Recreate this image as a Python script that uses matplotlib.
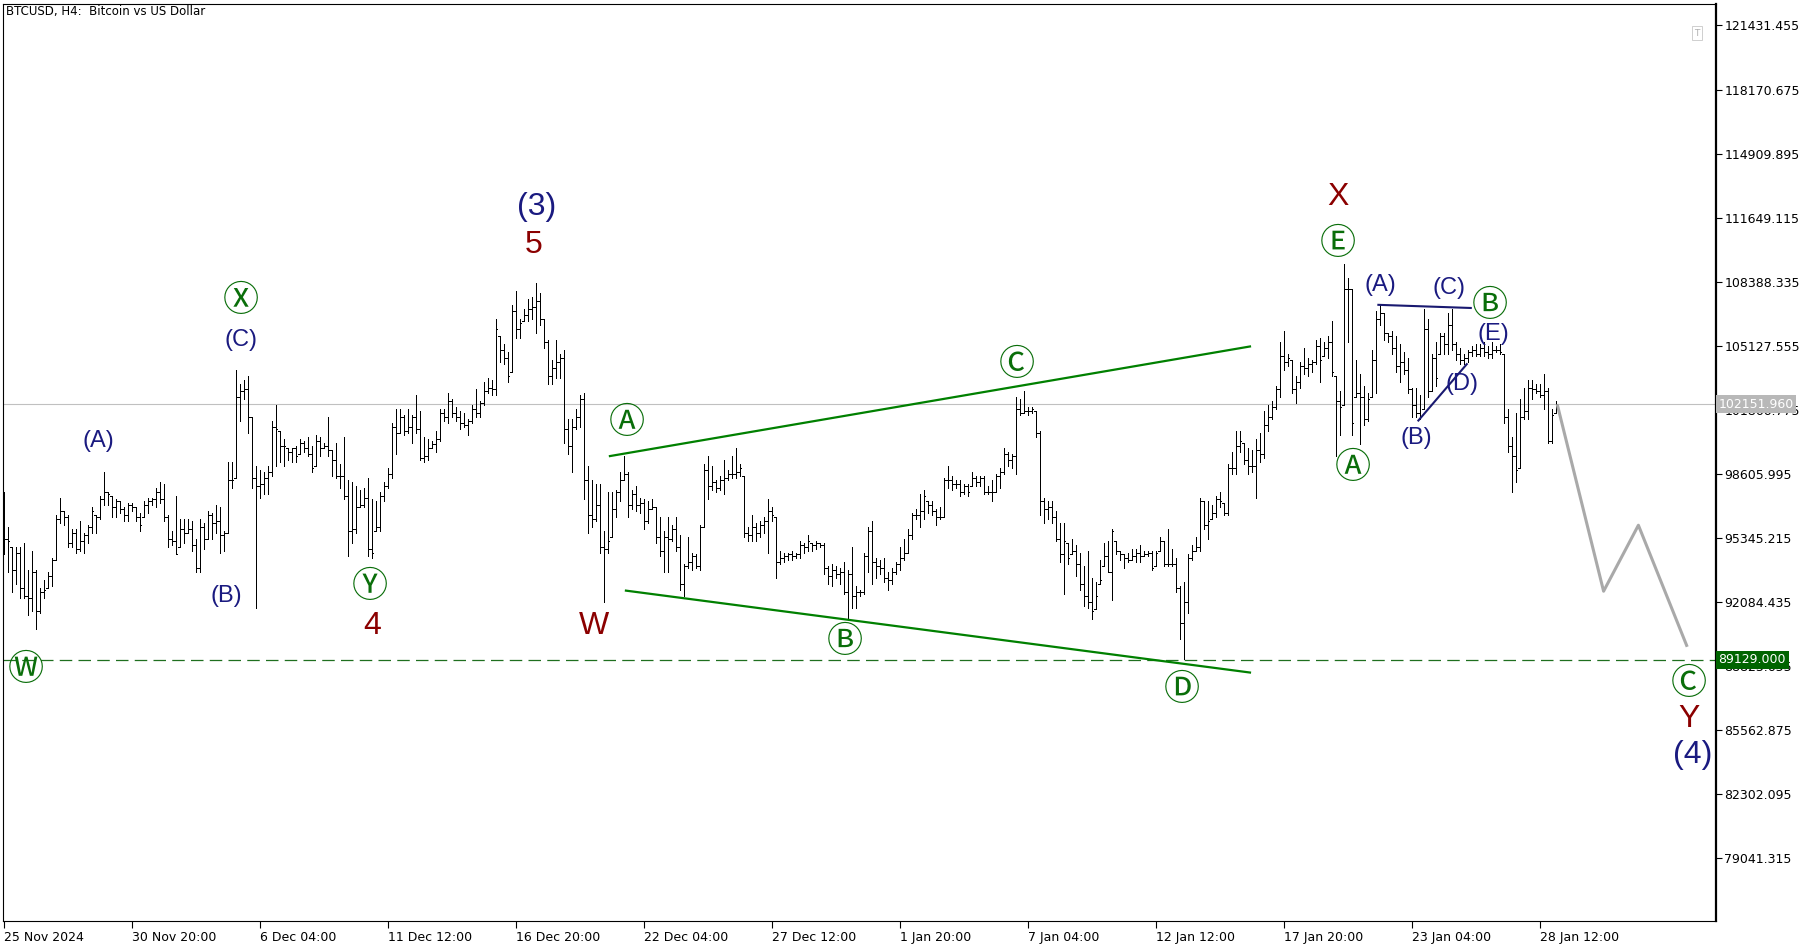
import matplotlib
matplotlib.use("Agg")
import matplotlib.pyplot as plt
import matplotlib.transforms as mtransforms
import numpy as np

# BTCUSD H4 bars (thousands of USD), one bar every 4 hours from 25 Nov 2024
high = [
    97.7, 95.9, 94.9, 94.9, 94.9, 95.1, 93.7, 94.7, 93.7, 92.8, 93.2, 93.6, 94.3, 96.5, 97.4, 96.7, 96.5, 95.8, 95.8, 96.2,
    95.6, 96.0, 96.9, 96.5, 97.5, 98.7, 97.7, 97.5, 97.3, 97.2, 96.9, 97.1, 97.1, 96.9, 96.6, 97.2, 97.4, 97.4, 97.9, 98.2,
    98.1, 96.5, 95.7, 97.5, 96.3, 96.3, 96.3, 96.2, 95.3, 96.3, 96.1, 96.7, 96.6, 97.0, 96.9, 95.7, 99.2, 99.2, 103.9, 103.2,
    103.4, 103.6, 101.5, 99.0, 98.8, 98.7, 99.0, 101.3, 102.1, 100.8, 100.4, 99.9, 99.9, 100.0, 100.4, 100.3, 100.5, 100.0, 100.6, 100.5,
    100.2, 101.5, 99.8, 100.2, 99.1, 100.5, 98.3, 98.2, 98.0, 97.8, 97.9, 98.4, 97.3, 97.2, 97.7, 98.2, 98.9, 101.2, 101.9, 101.9,
    101.6, 101.9, 101.6, 102.6, 101.8, 100.5, 100.4, 100.3, 100.8, 101.9, 101.9, 102.7,
    # 16 Dec - 1 Jan
    102.4, 102.0, 101.8, 101.7, 101.4, 102.1, 102.9, 102.3, 103.3, 103.5, 103.4, 106.5, 105.6, 105.2, 104.8, 107.2, 107.9, 106.5, 107.0, 107.5,
    107.6, 108.3, 107.8, 106.5, 105.4, 104.4, 105.4, 104.7, 104.9, 101.4, 101.4, 101.9, 102.6, 102.7, 99.0, 98.3, 98.1, 98.1, 95.7, 97.7,
    97.7, 97.8, 98.7, 99.5, 98.7, 97.8, 98.0, 97.4, 97.3, 97.2, 97.3, 96.9, 96.4, 95.7, 96.4, 96.0, 96.4, 95.5, 94.0, 95.4,
    94.6, 94.5, 96.0, 99.1, 99.5, 99.0, 98.3, 98.5, 99.3, 98.8, 99.5, 99.9, 99.1, 98.5, 95.9, 96.5, 96.1, 96.2, 96.4, 97.3,
    96.9, 96.4, 94.7, 94.6, 94.6, 94.7, 94.6, 95.2, 95.1, 95.5, 95.1, 95.2, 95.1, 95.1, 93.9, 94.0, 93.9, 93.8, 94.1, 93.7,
    94.9, 92.9, 92.7, 94.6, 95.9, 96.2, 94.3, 94.2, 94.3, 93.6, 93.8, 94.1, 94.9,
    # 1 Jan - 12 Jan
    95.3, 95.8, 96.6, 96.8, 97.6, 97.8, 97.2, 97.2, 96.8, 96.9, 98.4, 99.0, 98.5, 98.3, 98.3, 98.1, 98.1, 98.7, 98.5, 98.5,
    98.5, 98.0, 98.3, 98.6, 98.9, 99.9, 99.7, 99.6, 102.5, 102.4, 102.8, 102.0, 102.0, 101.8, 100.8, 97.4, 97.2, 97.2, 96.7, 96.1,
    96.1, 95.1, 95.3, 95.0, 94.6,
    93.9, 94.7, 93.3, 93.1, 94.2, 95.1, 95.2, 95.8, 95.2, 94.7, 94.5, 94.6, 94.8, 94.8, 95.0, 94.7, 94.7, 94.7, 94.7, 95.4,
    95.2, 95.8, 94.8, 94.3, 92.9, 93.1, 94.5, 95.0, 95.4, 97.4, 97.2, 97.2, 97.0, 97.5, 97.7, 97.1, 99.1, 99.7, 100.8, 100.8,
    100.2, 99.9,
    # 17 Jan - 29 Jan
    99.8, 100.4, 100.7, 101.8, 102.1, 102.3, 103.1, 105.3, 105.9, 104.7, 104.4, 103.6, 104.3, 105.0, 104.5, 104.4, 105.4, 105.5, 105.3, 105.6,
    106.4, 103.6, 102.8, 109.3, 108.6, 108.0, 104.4, 103.7, 103.1, 102.7, 104.9, 106.9, 107.2, 106.8, 105.8, 105.9, 105.6, 105.2, 104.8, 104.5,
    103.0, 103.0, 102.6,
    107.0, 106.5, 104.7, 105.3, 105.8, 105.8, 106.8, 107.0, 105.3, 105.0, 104.7, 104.9, 105.1, 105.2, 105.2, 105.3, 105.1, 105.3, 105.1, 105.2,
    104.7, 101.9, 100.5, 101.7, 102.4, 103.0, 103.4, 103.4, 103.2, 103.2, 103.7, 103.0, 101.9, 102.3,
]
low = [
    94.5, 93.6, 92.6, 93.0, 92.3, 92.3, 91.4, 91.6, 90.7, 91.5, 92.3, 92.8, 92.9, 94.2, 96.1, 96.0, 94.9, 94.9, 94.6, 94.7,
    94.6, 95.1, 95.6, 95.6, 96.3, 97.0, 97.0, 96.4, 96.4, 96.6, 96.2, 96.2, 96.7, 96.2, 95.7, 96.4, 96.6, 97.0, 96.9, 97.1,
    96.2, 94.9, 95.0, 94.5, 94.9, 95.1, 95.6, 94.7, 93.6, 93.6, 94.8, 95.3, 95.3, 95.6, 94.6, 94.7, 95.6, 97.9, 98.4, 101.3,
    102.4, 100.7, 97.9, 91.8, 97.4, 97.6, 97.6, 98.5, 99.0, 99.2, 99.0, 99.3, 99.2, 99.2, 99.6, 99.7, 99.5, 98.7, 99.0, 99.5,
    99.9, 99.5, 98.5, 98.4, 97.9, 97.3, 94.4, 95.1, 95.6, 96.9, 96.9, 94.4, 94.3, 95.7, 95.7, 97.2, 97.9, 98.4, 99.6, 100.7,
    100.6, 100.7, 100.2, 100.7, 99.3, 99.2, 99.3, 99.9, 99.7, 100.3, 101.3, 101.2,
    101.5, 101.3, 100.9, 101.0, 100.6, 101.2, 101.5, 101.5, 102.1, 102.7, 102.6, 102.6, 104.3, 104.2, 103.3, 103.8, 105.5, 105.5, 106.4, 106.4,
    106.5, 105.8, 106.2, 105.0, 103.2, 103.2, 103.5, 103.5, 100.2, 99.6, 98.7, 100.9, 101.0, 97.3, 95.6, 95.9, 96.2, 94.6, 92.1, 94.6,
    95.4, 96.4, 97.2, 98.3, 96.4, 96.8, 96.7, 96.6, 95.8, 96.1, 96.8, 95.1, 94.4, 93.6, 93.6, 95.2, 94.7, 92.7, 92.4, 93.8,
    93.7, 93.8, 93.7, 95.9, 97.3, 97.8, 97.7, 97.8, 97.6, 98.3, 98.4, 98.4, 98.5, 95.4, 95.2, 95.2, 95.2, 95.4, 95.6, 94.6,
    96.2, 93.3, 94.0, 94.1, 94.2, 94.2, 94.3, 94.3, 94.6, 94.7, 94.7, 94.8, 94.9, 93.5, 93.0, 92.9, 93.3, 93.0, 92.5, 91.2,
    91.8, 91.8, 92.4, 92.5, 93.6, 93.0, 93.3, 93.5, 93.1, 92.7, 93.0, 93.5, 93.7,
    94.2, 94.6, 95.3, 96.3, 95.9, 96.3, 96.6, 96.5, 96.0, 96.3, 96.4, 97.9, 97.8, 97.9, 97.5, 97.6, 97.5, 98.0, 98.0, 98.0,
    97.6, 97.6, 97.2, 97.7, 97.9, 98.6, 99.0, 98.9, 98.6, 101.6, 101.7, 101.6, 101.7, 100.5, 96.5, 96.1, 96.3, 96.1, 95.2, 94.1,
    92.5, 94.0, 94.5, 93.4, 92.7,
    91.9, 91.8, 91.2, 91.7, 93.0, 93.9, 93.6, 92.2, 94.5, 94.2, 93.8, 94.1, 94.2, 94.1, 94.1, 94.4, 94.4, 93.7, 93.9, 94.7,
    93.9, 93.9, 93.9, 92.6, 90.2, 89.2, 91.5, 94.2, 94.7, 94.7, 95.8, 95.3, 96.3, 96.4, 96.9, 96.5, 96.5, 98.6, 98.6, 99.7,
    99.1, 98.6,
    98.7, 97.4, 99.2, 99.4, 100.8, 101.4, 101.9, 102.5, 103.9, 104.1, 102.7, 102.2, 103.0, 103.7, 103.6, 103.8, 104.2, 103.3, 104.6, 104.5,
    103.6, 99.5, 100.6, 102.1, 105.3, 100.6, 102.5, 100.1, 101.1, 101.3, 102.5, 102.7, 106.2, 105.4, 105.3, 104.7, 103.8, 103.3, 103.7, 102.7,
    101.5, 101.5, 101.4,
    101.9, 102.5, 102.8, 103.1, 104.7, 104.7, 104.7, 104.9, 104.4, 104.2, 104.2, 104.3, 104.6, 104.6, 104.6, 104.6, 104.5, 104.5, 104.8, 104.7,
    101.2, 99.7, 97.7, 98.2, 98.9, 101.4, 101.4, 102.4, 102.7, 102.5, 101.9, 100.2, 100.2, 101.7,
]
close = [
    95.3, 95.2, 93.7, 94.6, 92.8, 92.4, 92.3, 93.6, 91.6, 92.6, 92.7, 93.4, 94.2, 96.3, 96.7, 96.4, 95.1, 95.6, 94.8, 95.2,
    95.5, 95.9, 96.7, 96.4, 97.3, 97.7, 97.6, 96.9, 97.2, 96.8, 96.5, 97.0, 96.9, 96.4, 96.0, 97.0, 97.2, 97.3, 97.7, 97.3,
    96.4, 95.3, 95.2, 94.5, 95.8, 95.6, 95.8, 95.0, 93.8, 95.9, 95.3, 96.5, 96.1, 96.2, 95.5, 95.6, 98.3, 98.3, 102.5, 102.8,
    102.9, 101.5, 98.4, 98.0, 98.1, 98.4, 98.7, 101.0, 100.9, 100.0, 100.0, 99.7, 99.9, 99.5, 100.2, 99.9, 99.6, 98.9, 100.3, 99.9,
    100.0, 99.8, 99.3, 98.5, 98.5, 97.5, 95.7, 95.8, 96.9, 97.0, 97.4, 94.8, 94.6, 95.9, 97.5, 98.0, 98.6, 101.0, 100.7, 101.5,
    100.8, 101.0, 101.5, 100.9, 99.4, 99.5, 99.9, 100.1, 100.4, 101.7, 101.5, 102.3,
    101.7, 101.5, 101.2, 101.1, 101.3, 101.9, 101.7, 102.2, 102.8, 103.0, 102.9, 106.0, 104.9, 104.5, 103.6, 106.9, 106.0, 106.3, 106.7, 107.0,
    107.1, 107.4, 106.5, 105.3, 103.6, 104.0, 104.3, 104.5, 100.9, 100.0, 101.0, 101.5, 102.4, 98.3, 96.5, 96.3, 97.0, 94.9, 94.8, 95.2,
    96.8, 97.7, 98.3, 98.6, 97.0, 97.6, 97.0, 97.1, 96.2, 96.8, 96.9, 95.4, 94.7, 95.4, 95.3, 95.8, 94.9, 93.0, 93.9, 94.1,
    94.4, 93.9, 95.9, 98.8, 98.0, 98.2, 97.9, 98.3, 98.4, 98.6, 98.6, 98.7, 98.9, 95.6, 95.5, 95.9, 95.6, 96.0, 96.2, 96.7,
    96.5, 94.1, 94.3, 94.4, 94.5, 94.4, 94.5, 95.0, 94.9, 95.2, 95.0, 95.1, 95.0, 93.8, 93.4, 93.7, 93.5, 93.6, 92.6, 93.5,
    92.4, 92.6, 92.6, 94.4, 95.7, 94.1, 93.9, 93.8, 93.3, 93.2, 93.6, 94.0, 94.3,
    94.6, 95.5, 96.5, 96.5, 96.7, 97.5, 97.0, 96.7, 96.4, 96.4, 98.3, 98.3, 98.1, 98.1, 97.7, 98.0, 97.7, 98.4, 98.2, 98.4,
    97.7, 97.7, 97.7, 98.5, 98.7, 99.6, 99.3, 99.5, 101.9, 101.7, 101.8, 101.8, 101.9, 100.7, 97.2, 96.8, 96.9, 96.4, 95.3, 94.5,
    95.2, 94.3, 94.7, 94.0, 93.0,
    92.4, 92.1, 91.6, 92.4, 93.2, 94.4, 93.6, 95.7, 94.7, 94.5, 94.3, 94.2, 94.4, 94.6, 94.4, 94.5, 94.6, 93.8, 94.6, 95.2,
    94.0, 94.0, 94.0, 92.8, 91.0, 92.1, 94.3, 94.7, 94.9, 97.2, 96.0, 96.2, 96.6, 97.3, 97.2, 96.6, 98.9, 98.9, 100.0, 100.3,
    99.3, 99.0,
    99.0, 99.8, 99.6, 101.1, 101.5, 102.0, 102.9, 104.6, 104.3, 104.5, 102.9, 103.3, 104.1, 104.0, 104.2, 104.3, 105.1, 104.4, 105.0, 105.3,
    103.8, 102.3, 102.0, 108.0, 108.0, 101.2, 102.7, 102.5, 101.4, 102.4, 104.4, 106.5, 106.8, 105.8, 105.6, 105.0, 104.1, 104.3, 103.9, 102.9,
    102.1, 101.7, 101.5,
    106.0, 102.8, 104.5, 103.5, 105.6, 105.2, 106.2, 105.2, 104.7, 104.4, 104.5, 104.8, 104.9, 104.7, 105.0, 104.8, 104.7, 104.9, 104.9, 104.8,
    101.5, 100.0, 99.5, 98.8, 101.5, 101.8, 103.0, 102.9, 102.8, 102.6, 102.8, 100.3, 101.6, 102.152,
]

# time axis labels (every 32 bars)
date_labels = ["25 Nov 2024", "30 Nov 20:00", "6 Dec 04:00", "11 Dec 12:00", "16 Dec 20:00",
               "22 Dec 04:00", "27 Dec 12:00", "1 Jan 20:00", "7 Jan 04:00", "12 Jan 12:00",
               "17 Jan 20:00", "23 Jan 04:00", "28 Jan 12:00"]
price_ticks = [121431.455, 118170.675, 114909.895, 111649.115, 108388.335, 105127.555, 101866.775,
               98605.995, 95345.215, 92084.435, 88823.655, 85562.875, 82302.095, 79041.315]

last_price = 102151.96
target_level = 89129.0

# wave lines (bar index, price)
upper_line = ([151.6, 311.6], [99510, 105090])
lower_line = ([155.6, 311.6], [92660, 88490])
tri_top = ([343.7, 366.8], [107210, 107050])
tri_bottom = ([353.7, 365.8], [101320, 104190])
forecast = ([388.4, 400.0, 408.7, 420.9], [102152, 92630, 95990, 89800])

hi = np.array(high) * 1000
lo = np.array(low) * 1000
cl = np.array(close) * 1000
x = np.arange(len(hi))
op = np.clip(np.r_[cl[0], cl[:-1]], lo, hi)

fig = plt.figure(figsize=(18.18, 9.48), dpi=100)
ax = fig.add_axes([3 / 1818, 27 / 948, 1713 / 1818, 917 / 948])
ax.set_xlim(-0.125, 428.1)
ax.set_ylim(75840, 122526)

ax.axhline(last_price, color="#c0c0c0", lw=0.8, zorder=1)
ax.axhline(target_level, color="#1f6f1f", lw=0.9, ls=(0, (10, 5)), zorder=1)

ax.vlines(x, lo, hi, color="black", lw=0.72, zorder=3, antialiased=False)
ax.hlines(op, x - 0.3, x, color="black", lw=0.72, zorder=3, antialiased=False)
ax.hlines(cl, x, x + 0.3, color="black", lw=0.72, zorder=3, antialiased=False)

ax.plot(*upper_line, color="#008000", lw=1.6, zorder=4)
ax.plot(*lower_line, color="#008000", lw=1.6, zorder=4)
ax.plot(*tri_top, color="#191970", lw=1.5, zorder=4)
ax.plot(*tri_bottom, color="#191970", lw=1.5, zorder=4)
ax.plot(*forecast, color="#a9a9a9", lw=2.2, zorder=4, solid_capstyle="butt")

navy = "#1a1a80"
red = "#8b0000"
green = "#0a6e0a"
labels = [
    ("(A)", 23.8, 100300, navy, 17), ("(C)", 59.4, 105440, navy, 17), ("(B)", 55.7, 92390, navy, 17),
    ("4", 92.2, 90860, red, 23), ("(3)", 133.3, 112170, navy, 23), ("5", 132.5, 110280, red, 23),
    ("W", 147.5, 90860, red, 23), ("X", 333.6, 112700, red, 23),
    ("(A)", 344.3, 108210, navy, 17), ("(C)", 361.4, 108090, navy, 17), ("(E)", 372.5, 105730, navy, 17),
    ("(D)", 364.6, 103190, navy, 17), ("(B)", 353.3, 100420, navy, 17),
    ("Y", 421.4, 86140, red, 23), ("(4)", 422.3, 84300, navy, 23),
]
for t, xi, yi, c, s in labels:
    ax.text(xi, yi, t, color=c, fontsize=s, ha="center", va="center", family="Liberation Sans", zorder=6)

circled = [
    ("\u24cd", 59.4, 107560), ("\u24ce", 91.6, 92980), ("\u24b6", 155.7, 101360), ("\u24b7", 210.4, 90210),
    ("\u24b8", 253.3, 104320), ("\u24b9", 294.5, 87730), ("\u24ba", 333.6, 110450), ("\u24b6", 337.4, 99060),
    ("\u24b7", 371.6, 107320), ("\u24cc", 5.5, 88790), ("\u24b8", 421.4, 88080),
]
for t, xi, yi in circled:
    ax.text(xi, yi - 150, t, color=green, fontsize=26, ha="center", va="center",
            family=["Noto Sans CJK SC", "DejaVu Sans"], zorder=6)

for side in ["left", "top", "bottom"]:
    ax.spines[side].set_linewidth(0.8)
ax.spines["right"].set_linewidth(1.6)

ax.yaxis.tick_right()
ax.set_yticks(price_ticks)
ax.set_yticklabels([f"{v:.3f}" for v in price_ticks])
ax.tick_params(axis="y", direction="out", length=4, width=0.8, pad=2, labelsize=9)
ax.set_xticks(np.arange(len(date_labels)) * 32)
ax.set_xticklabels(date_labels, ha="left")
ax.tick_params(axis="x", direction="out", length=5, width=0.8, pad=2, labelsize=9)

yt = mtransforms.blended_transform_factory(ax.transAxes, ax.transData)
ax.text(1.0015, last_price, "102151.960", transform=yt, ha="left", va="center", color="white", fontsize=9,
        clip_on=False, zorder=10, bbox=dict(boxstyle="square,pad=0.2", fc="#b8b8b8", ec="none"))
ax.text(1.0015, target_level, "89129.000", transform=yt, ha="left", va="center", color="white", fontsize=9,
        clip_on=False, zorder=10, bbox=dict(boxstyle="square,pad=0.2", fc="#006400", ec="none"))

fig.text(6 / 1818, 1 - 12 / 948, "BTCUSD, H4:  Bitcoin vs US Dollar", fontsize=8.5, va="center")
fig.text(1697 / 1818, 1 - 33 / 948, "T", fontsize=6.5, color="#b0b0b0", ha="center", va="center",
         bbox=dict(boxstyle="square,pad=0.25", fc="white", ec="#c8c8c8", lw=0.6))

fig.savefig("out.png", dpi=100)
